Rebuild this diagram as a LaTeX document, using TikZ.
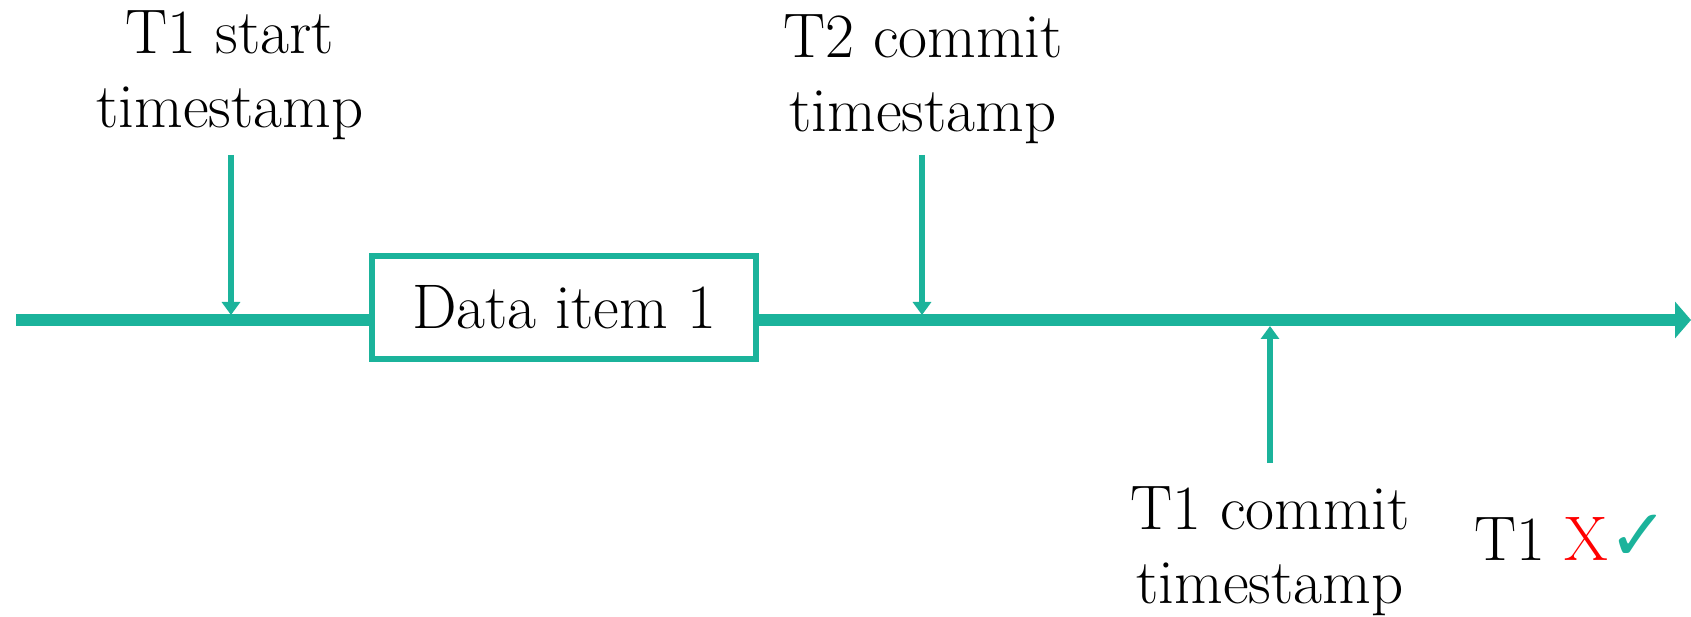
\documentclass[tikz,border=0pt]{standalone}
\usepackage{fontspec}
\newfontfamily\symfont{DejaVu Sans}
\usetikzlibrary{arrows.meta}
\definecolor{tealc}{RGB}{27,179,155}
\definecolor{redc}{RGB}{255,0,0}
\tikzset{
  lbl/.style={align=center, inner sep=0pt, font=\fontsize{63}{74}\selectfont},
  boxn/.style={draw=tealc, line width=6pt, fill=white, minimum width=384pt, minimum height=103pt, inner sep=0pt, font=\fontsize{63}{74}\selectfont},
  mainline/.style={draw=tealc, line width=12pt, -{Triangle[length=16pt,width=36pt]}},
  mainplain/.style={draw=tealc, line width=12pt},
  tick/.style={draw=tealc, line width=6pt, -{Triangle[length=13pt,width=18pt]}}
}
\begin{document}
\begin{tikzpicture}[x=1pt,y=-1pt]
\useasboundingbox (0,0) rectangle (1691,617);
% main timeline
\coordinate (L) at (16,320);
\coordinate (R) at (1691,320);
\node[boxn] (box) at (564,307.5) {Data item 1};
\coordinate (boxW) at (box.west |- L);
\coordinate (boxE) at (box.east |- L);
\draw[mainplain] (L) -- (boxW);
\draw[mainline] (boxE) -- (R);
% labels
\node[lbl, anchor=base] (t1s) at (230,128) {T1 start\\timestamp};
\node[lbl, anchor=base] (t2c) at (923,132) {T2 commit\\timestamp};
\node[lbl, anchor=base] (t1c) at (1270,603) {T1 commit\\timestamp};
\node[lbl, anchor=base west] (res) at (1474,560) {T1 \textcolor{redc}{X}\kern1pt{\symfont\fontsize{72}{80}\selectfont\textcolor{tealc}{✓}}};
% tick arrows
\coordinate (a1s) at (231,155); \coordinate (a1e) at (231,315);
\coordinate (a2s) at (922,155); \coordinate (a2e) at (922,315);
\coordinate (a3s) at (1270,463); \coordinate (a3e) at (1270,326);
\draw[tick] (a1s) -- (a1e);
\draw[tick] (a2s) -- (a2e);
\draw[tick] (a3s) -- (a3e);
\end{tikzpicture}
\end{document}
